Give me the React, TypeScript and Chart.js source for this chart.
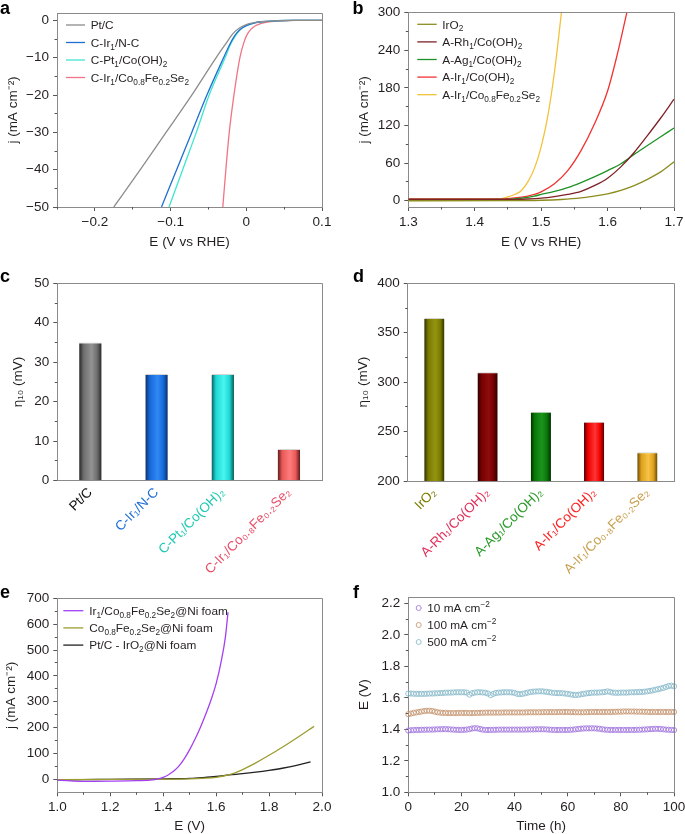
import React, { useEffect, useRef } from 'react';
import { Chart, registerables } from 'chart.js';

Chart.register(...registerables);

const FONT = '"Liberation Sans", Arial, Helvetica, sans-serif';
const TEXT = '#231f20';
const AXIS = '#8a8a8a';
const TICK = '#555555';

// ---------------- Panel a (HER polarisation) ----------------
const A_PTC_E = [-0.175, -0.14, -0.106, -0.072, -0.04, -0.028, -0.017, -0.008, 0, 0.01, 0.02, 0.04, 0.06, 0.1];
const A_PTC_J = [-50, -40, -30, -20, -10, -6.5, -3.4, -1.9, -1.1, -0.6, -0.3, -0.08, 0, 0];
const A_IRNC_E = [-0.112, -0.092, -0.072, -0.052, -0.03, -0.022, -0.015, -0.008, 0, 0.01, 0.02, 0.04, 0.06, 0.1];
const A_IRNC_J = [-50, -40, -30, -20, -10, -6.5, -4, -2.4, -1.4, -0.7, -0.35, -0.08, 0, 0];
const A_PTCO_E = [-0.102, -0.084, -0.066, -0.049, -0.028, -0.021, -0.014, -0.008, 0, 0.01, 0.02, 0.04, 0.06, 0.1];
const A_PTCO_J = [-50, -40, -30, -20, -10, -6.5, -4, -2.4, -1.4, -0.7, -0.35, -0.08, 0, 0];
const A_IRSE_E = [-0.031, -0.027, -0.0225, -0.017, -0.0085, -0.003, 0.001, 0.006, 0.012, 0.02, 0.03, 0.045, 0.065, 0.1];
const A_IRSE_J = [-50, -40, -30, -21, -10, -5.8, -3.8, -2.4, -1.4, -0.75, -0.35, -0.1, 0, 0];
const A_X_TICKS = [-0.2, -0.1, 0, 0.1];
const A_X_LABELS = ['\u22120.2', '\u22120.1', '0', '0.1'];
const A_X_MINOR = [-0.25, -0.15, -0.05, 0.05];
const A_Y_TICKS = [-50, -40, -30, -20, -10, 0];
const A_Y_LABELS = ['\u221250', '\u221240', '\u221230', '\u221220', '\u221210', '0'];
const A_Y_MINOR = [-45, -35, -25, -15, -5];

// ---------------- Panel b (OER polarisation) ----------------
const B_IRO2_E = [1.3, 1.45, 1.5, 1.53, 1.56, 1.58, 1.6, 1.62, 1.64, 1.66, 1.68, 1.7];
const B_IRO2_J = [0, 0.2, 0.8, 2, 4.5, 7.5, 11, 16.5, 24, 34, 46, 62];
const B_RH_E = [1.3, 1.45, 1.48, 1.5, 1.52, 1.54, 1.56, 1.58, 1.6, 1.62, 1.64, 1.66, 1.68, 1.7];
const B_RH_J = [2, 2, 2.8, 4, 6.5, 10, 15, 24, 36, 54, 77, 104, 132, 162];
const B_AG_E = [1.3, 1.45, 1.47, 1.49, 1.5, 1.52, 1.54, 1.56, 1.58, 1.6, 1.62, 1.64, 1.66, 1.68, 1.7];
const B_AG_J = [2, 2.2, 4, 7.5, 10, 15, 21, 29, 38, 48, 59, 74, 88, 102, 116];
const B_IRCO_E = [1.3, 1.44, 1.46, 1.48, 1.49, 1.5, 1.52, 1.54, 1.56, 1.58, 1.6, 1.615, 1.63];
const B_IRCO_J = [3, 3, 4.5, 7.5, 10, 14, 27, 48, 80, 122, 175, 235, 305];
const B_IRSE_E = [1.3, 1.43, 1.44, 1.45, 1.46, 1.47, 1.48, 1.49, 1.5, 1.51, 1.52, 1.53, 1.535];
const B_IRSE_J = [2, 2.5, 3.5, 6, 10, 16, 30, 52, 86, 135, 205, 295, 340];
const B_X_TICKS = [1.3, 1.4, 1.5, 1.6, 1.7];
const B_X_LABELS = ['1.3', '1.4', '1.5', '1.6', '1.7'];
const B_X_MINOR = [1.35, 1.45, 1.55, 1.65];
const B_Y_TICKS = [0, 60, 120, 180, 240, 300];
const B_Y_LABELS = ['0', '60', '120', '180', '240', '300'];
const B_Y_MINOR = [30, 90, 150, 210, 270];

// ---------------- Panel c (HER overpotential) ----------------
const C_CATS = ['Pt/C', 'C-Ir\u2081/N-C', 'C-Pt\u2081/Co(OH)\u2082', 'C-Ir\u2081/Co\u2080.\u2088Fe\u2080.\u2082Se\u2082'];
const C_ETA = [35, 27, 27, 8];
const C_Y_TICKS = [0, 10, 20, 30, 40, 50];
const C_Y_LABELS = ['0', '10', '20', '30', '40', '50'];
const C_Y_MINOR = [5, 15, 25, 35, 45];

// ---------------- Panel d (OER overpotential) ----------------
const D_CATS = ['IrO\u2082', 'A-Rh\u2081/Co(OH)\u2082', 'A-Ag\u2081/Co(OH)\u2082', 'A-Ir\u2081/Co(OH)\u2082', 'A-Ir\u2081/Co\u2080.\u2088Fe\u2080.\u2082Se\u2082'];
const D_ETA = [365, 310, 270, 260, 229];
const D_Y_TICKS = [200, 250, 300, 350, 400];
const D_Y_LABELS = ['200', '250', '300', '350', '400'];
const D_Y_MINOR = [225, 275, 325, 375];

// ---------------- Panel e (overall water splitting) ----------------
const E_IRSE_E = [1.0, 1.05, 1.1, 1.2, 1.3, 1.36, 1.38, 1.4, 1.42, 1.44, 1.46, 1.48, 1.5, 1.52, 1.54, 1.56, 1.58, 1.6, 1.62, 1.635, 1.645];
const E_IRSE_J = [-3, -6, -8, -7, -5, -2, 2, 8, 18, 32, 52, 80, 115, 155, 200, 250, 305, 370, 460, 550, 646];
const E_COSE_E = [1.0, 1.2, 1.4, 1.5, 1.55, 1.6, 1.65, 1.7, 1.75, 1.8, 1.85, 1.9, 1.97];
const E_COSE_J = [-1, 0, 1, 2, 4, 8, 18, 38, 64, 93, 124, 157, 205];
const E_PT_E = [1.0, 1.1, 1.2, 1.4, 1.5, 1.55, 1.6, 1.65, 1.7, 1.75, 1.8, 1.85, 1.9, 1.957];
const E_PT_J = [-2, -1, 0, 2, 4, 7, 11, 17, 22, 28, 35, 43, 53, 68];
const E_X_TICKS = [1.0, 1.2, 1.4, 1.6, 1.8, 2.0];
const E_X_LABELS = ['1.0', '1.2', '1.4', '1.6', '1.8', '2.0'];
const E_X_MINOR = [1.1, 1.3, 1.5, 1.7, 1.9];
const E_Y_TICKS = [0, 100, 200, 300, 400, 500, 600, 700];
const E_Y_LABELS = ['0', '100', '200', '300', '400', '500', '600', '700'];
const E_Y_MINOR = [50, 150, 250, 350, 450, 550, 650];

// ---------------- Panel f (stability) ----------------
const F_TIME = [0, 1, 2, 3, 4, 5, 6, 7, 8, 9, 10, 11, 12, 13, 14, 15, 16, 17, 18, 19, 20, 21, 22, 23, 24, 25, 26, 27, 28, 29, 30, 31, 32, 33, 34, 35, 36, 37, 38, 39, 40, 41, 42, 43, 44, 45, 46, 47, 48, 49, 50, 51, 52, 53, 54, 55, 56, 57, 58, 59, 60, 61, 62, 63, 64, 65, 66, 67, 68, 69, 70, 71, 72, 73, 74, 75, 76, 77, 78, 79, 80, 81, 82, 83, 84, 85, 86, 87, 88, 89, 90, 91, 92, 93, 94, 95, 96, 97, 98, 99, 100];
const F_10 = [
  1.392, 1.394, 1.395, 1.396, 1.396, 1.397, 1.397, 1.398, 1.398, 1.398,
  1.399, 1.4, 1.4, 1.401, 1.401, 1.4, 1.399, 1.398, 1.397, 1.396,
  1.396, 1.397, 1.398, 1.401, 1.405, 1.407, 1.406, 1.402, 1.398, 1.396,
  1.396, 1.396, 1.397, 1.397, 1.398, 1.398, 1.398, 1.398, 1.398, 1.398,
  1.398, 1.398, 1.398, 1.398, 1.398, 1.399, 1.399, 1.399, 1.4, 1.4,
  1.4, 1.4, 1.399, 1.398, 1.397, 1.396, 1.396, 1.396, 1.396, 1.396,
  1.396, 1.397, 1.398, 1.4, 1.402, 1.404, 1.405, 1.406, 1.406, 1.406,
  1.406, 1.405, 1.403, 1.4, 1.398, 1.397, 1.396, 1.396, 1.396, 1.396,
  1.396, 1.396, 1.396, 1.396, 1.396, 1.396, 1.397, 1.397, 1.398, 1.399,
  1.4, 1.401, 1.402, 1.403, 1.403, 1.402, 1.4, 1.398, 1.397, 1.396,
  1.395];
const F_100 = [
  1.496, 1.5, 1.504, 1.507, 1.51, 1.513, 1.516, 1.518, 1.518, 1.516,
  1.512, 1.508, 1.506, 1.504, 1.504, 1.503, 1.503, 1.503, 1.503, 1.504,
  1.504, 1.504, 1.504, 1.503, 1.503, 1.504, 1.504, 1.505, 1.505, 1.506,
  1.506, 1.506, 1.506, 1.506, 1.506, 1.506, 1.507, 1.507, 1.507, 1.507,
  1.507, 1.507, 1.507, 1.507, 1.507, 1.508, 1.508, 1.508, 1.508, 1.508,
  1.508, 1.509, 1.509, 1.509, 1.509, 1.509, 1.509, 1.51, 1.51, 1.51,
  1.51, 1.509, 1.509, 1.508, 1.508, 1.508, 1.508, 1.509, 1.509, 1.51,
  1.51, 1.51, 1.51, 1.51, 1.51, 1.51, 1.51, 1.511, 1.511, 1.512,
  1.512, 1.513, 1.513, 1.513, 1.513, 1.513, 1.512, 1.512, 1.512, 1.511,
  1.511, 1.51, 1.51, 1.51, 1.51, 1.51, 1.51, 1.51, 1.51, 1.51,
  1.51];
const F_500 = [
  1.627, 1.627, 1.626, 1.625, 1.625, 1.625, 1.625, 1.626, 1.627, 1.627,
  1.628, 1.629, 1.63, 1.631, 1.632, 1.633, 1.633, 1.634, 1.635, 1.635,
  1.635, 1.635, 1.633, 1.62, 1.629, 1.633, 1.635, 1.635, 1.634, 1.632,
  1.627, 1.617, 1.625, 1.631, 1.633, 1.634, 1.635, 1.635, 1.635, 1.634,
  1.631, 1.625, 1.623, 1.625, 1.629, 1.633, 1.637, 1.639, 1.64, 1.641,
  1.641, 1.64, 1.638, 1.635, 1.633, 1.631, 1.63, 1.63, 1.629, 1.627,
  1.625, 1.622, 1.619, 1.618, 1.619, 1.622, 1.625, 1.628, 1.63, 1.632,
  1.633, 1.633, 1.634, 1.635, 1.637, 1.641, 1.637, 1.633, 1.632, 1.632,
  1.633, 1.633, 1.633, 1.634, 1.635, 1.635, 1.636, 1.637, 1.637, 1.639,
  1.641, 1.644, 1.647, 1.651, 1.655, 1.659, 1.663, 1.669, 1.675, 1.677,
  1.673];
const F_X_TICKS = [0, 20, 40, 60, 80, 100];
const F_X_LABELS = ['0', '20', '40', '60', '80', '100'];
const F_X_MINOR = [10, 30, 50, 70, 90];
const F_Y_TICKS = [1.0, 1.2, 1.4, 1.6, 1.8, 2.0, 2.2];
const F_Y_LABELS = ['1.0', '1.2', '1.4', '1.6', '1.8', '2.0', '2.2'];
const F_Y_MINOR = [1.1, 1.3, 1.5, 1.7, 1.9, 2.1];

// ---------------- styles ----------------
const A_COLORS = ['#8c8c8c', '#1f6fd2', '#3ee6cf', '#f07484'];
const B_COLORS = ['#8c8c1e', '#7e2228', '#1f9226', '#f23232', '#f2c23c'];
const E_COLORS = ['#a540f2', '#9c9c30', '#222222'];
const F_COLORS = ['#a57ce0', '#c89a76', '#8cbccc'];
const C_LABEL_COLORS = ['#111111', '#1f6fd8', '#22c8b4', '#e8506a'];
const D_LABEL_COLORS = ['#7a7a00', '#e0305a', '#2a9a2a', '#ff2020', '#c8a050'];
const C_BAR_SHADES = [
  ['#262626', '#6e6e6e', '#939393'],
  ['#0b2f66', '#1668d8', '#3088f5'],
  ['#0a5a58', '#1ed8d4', '#4af5f0'],
  ['#5a1818', '#e85858', '#ff7c7c'],
];
const D_BAR_SHADES = [
  ['#2e2e00', '#7a7a00', '#949412'],
  ['#280000', '#760000', '#8e0c0c'],
  ['#003000', '#0a780a', '#1c941c'],
  ['#560000', '#ee0000', '#ff3434'],
  ['#684800', '#dea01e', '#f6c444'],
];

type Box = { left: number; top: number; width: number; height: number };
type Area = { l: number; t: number; r: number; b: number };
type LegendCfg = {
  items: { text: string; color: string }[];
  marker: 'line' | 'circle';
  dx: number; dy: number; spacing: number; lineLen: number; textDx: number; size: number;
};

function drawRich(ctx: CanvasRenderingContext2D, text: string, x: number, y: number, size: number, color: string) {
  const parts = text.split(/(_\{[^}]*\}|\^\{[^}]*\})/).filter((p) => p.length > 0);
  let cx = x;
  const base = y + size * 0.36;
  ctx.fillStyle = color;
  ctx.textAlign = 'left';
  ctx.textBaseline = 'alphabetic';
  for (const p of parts) {
    let t = p;
    let s = size;
    let dy = 0;
    if (p.startsWith('_{')) { t = p.slice(2, -1); s = size * 0.7; dy = size * 0.24; }
    else if (p.startsWith('^{')) { t = p.slice(2, -1); s = size * 0.7; dy = -size * 0.42; }
    ctx.font = `${s}px ${FONT}`;
    ctx.fillText(t, cx, base + dy);
    cx += ctx.measureText(t).width;
  }
}

function decor(opts: { xMinor?: number[]; yMinor?: number[]; legend?: LegendCfg }) {
  return {
    id: 'decor',
    afterDraw(chart: any) {
      const { ctx, chartArea: a, scales } = chart;
      const al = (p: number) => Math.round(p - 0.5) + 0.5;
      ctx.save();
      ctx.strokeStyle = AXIS;
      ctx.lineWidth = 1;
      ctx.beginPath();
      ctx.moveTo(al(a.left), al(a.top));
      ctx.lineTo(al(a.right), al(a.top));
      ctx.lineTo(al(a.right), al(a.bottom));
      ctx.stroke();
      ctx.strokeStyle = TICK;
      ctx.beginPath();
      (opts.xMinor || []).forEach((v) => {
        const px = al(scales.x.getPixelForValue(v));
        ctx.moveTo(px, a.bottom);
        ctx.lineTo(px, a.bottom + 2.5);
      });
      (opts.yMinor || []).forEach((v) => {
        const py = al(scales.y.getPixelForValue(v));
        ctx.moveTo(a.left - 2.5, py);
        ctx.lineTo(a.left, py);
      });
      ctx.stroke();
      const lg = opts.legend;
      if (lg) {
        lg.items.forEach((it, i) => {
          const x = a.left + lg.dx;
          const y = a.top + lg.dy + i * lg.spacing;
          ctx.strokeStyle = it.color;
          if (lg.marker === 'line') {
            ctx.lineWidth = 1.3;
            ctx.beginPath();
            ctx.moveTo(x, y);
            ctx.lineTo(x + lg.lineLen, y);
            ctx.stroke();
          } else {
            ctx.lineWidth = 0.9;
            ctx.beginPath();
            ctx.arc(x, y, 2.5, 0, Math.PI * 2);
            ctx.stroke();
          }
          drawRich(ctx, it.text, x + lg.textDx, y, lg.size, TEXT);
        });
      }
      ctx.restore();
    },
  };
}

interface AxesCfg {
  box: Box; area: Area;
  xCat?: boolean;
  xMin?: number; xMax?: number; xTicks?: number[]; xLabels?: string[];
  xTitle?: string; xTitleY?: number; xLabelColors?: string[];
  yMin: number; yMax: number; yTicks: number[]; yLabels: string[];
  yTitle: string; yTitleX: number;
}

function baseOptions(c: AxesCfg) {
  const titleFont = { family: FONT, size: 13.5, lineHeight: 1 };
  const tickFont = { family: FONT, size: 13.5, lineHeight: 1.2 };
  const x: any = {
    type: c.xCat ? 'category' : 'linear',
    afterFit: (s: any) => { s.height = c.box.top + c.box.height - c.area.b; },
    grid: { display: true, drawOnChartArea: false, drawTicks: !c.xCat, tickLength: 4, tickColor: TICK, tickWidth: 1 },
    border: { display: true, color: AXIS, width: 1 },
    ticks: {
      font: tickFont,
      padding: c.xCat ? 4 : 3,
      autoSkip: false,
      color: c.xLabelColors ? (ctx: any) => c.xLabelColors![ctx.index] : TEXT,
      maxRotation: c.xCat ? 45 : 0,
      minRotation: c.xCat ? 45 : 0,
    },
    title: c.xTitle
      ? { display: true, text: c.xTitle, font: titleFont, color: TEXT, padding: { top: 0, bottom: c.box.top + c.box.height - (c.xTitleY as number) - 6.75 } }
      : { display: false },
  };
  if (!c.xCat) {
    x.min = c.xMin;
    x.max = c.xMax;
    x.afterBuildTicks = (s: any) => { s.ticks = (c.xTicks as number[]).map((v) => ({ value: v })); };
    x.ticks.callback = (_v: any, i: number) => (c.xLabels as string[])[i];
  }
  const y: any = {
    type: 'linear',
    min: c.yMin,
    max: c.yMax,
    afterFit: (s: any) => { s.width = c.area.l - c.box.left; },
    afterBuildTicks: (s: any) => { s.ticks = c.yTicks.map((v) => ({ value: v })); },
    grid: { display: true, drawOnChartArea: false, drawTicks: true, tickLength: 4, tickColor: TICK, tickWidth: 1 },
    border: { display: true, color: AXIS, width: 1 },
    ticks: { font: tickFont, padding: 4, color: TEXT, callback: (_v: any, i: number) => c.yLabels[i] },
    title: { display: true, text: c.yTitle, font: titleFont, color: TEXT, padding: { top: c.yTitleX - c.box.left - 6.75, bottom: 0 } },
  };
  return {
    animation: false,
    responsive: false,
    maintainAspectRatio: false,
    devicePixelRatio: 1,
    events: [],
    layout: { padding: { left: 0, top: c.area.t - c.box.top, right: c.box.left + c.box.width - c.area.r, bottom: 0 } },
    plugins: { legend: { display: false }, tooltip: { enabled: false } },
    scales: { x, y },
  };
}

function pts(xs: number[], ys: number[]) {
  return xs.map((x, i) => ({ x, y: ys[i] }));
}

function lineSet(label: string, xs: number[], ys: number[], color: string) {
  return {
    label,
    data: pts(xs, ys),
    borderColor: color,
    backgroundColor: color,
    borderWidth: 1.3,
    pointRadius: 0,
    fill: false,
    tension: 0.4,
    cubicInterpolationMode: 'monotone',
  };
}

function cylinder(shades: string[][], n: number, frac: number) {
  return (ctx: any) => {
    const chart = ctx.chart;
    const i = ctx.dataIndex;
    const cols = shades[i] || shades[0];
    const xs = chart && chart.scales ? chart.scales.x : null;
    if (!xs || i == null) return cols[1];
    const cx = xs.getPixelForValue(i);
    const w = (xs.width / n) * frac;
    if (!isFinite(cx) || !isFinite(w) || w <= 0) return cols[1];
    const g = chart.ctx.createLinearGradient(cx - w / 2, 0, cx + w / 2, 0);
    g.addColorStop(0, cols[0]);
    g.addColorStop(0.2, cols[1]);
    g.addColorStop(0.55, cols[2]);
    g.addColorStop(0.8, cols[1]);
    g.addColorStop(1, cols[0]);
    return g;
  };
}

// ---------------- panel configs ----------------
const BOX_A: Box = { left: 0, top: 0, width: 340, height: 262 };
const BOX_B: Box = { left: 340, top: 0, width: 360, height: 262 };
const BOX_C: Box = { left: 0, top: 262, width: 340, height: 318 };
const BOX_D: Box = { left: 340, top: 262, width: 360, height: 318 };
const BOX_E: Box = { left: 0, top: 580, width: 340, height: 254 };
const BOX_F: Box = { left: 340, top: 580, width: 360, height: 254 };

function configA(): any {
  return {
    type: 'line',
    data: {
      datasets: [
        lineSet('Pt/C', A_PTC_E, A_PTC_J, A_COLORS[0]),
        lineSet('C-Ir1/N-C', A_IRNC_E, A_IRNC_J, A_COLORS[1]),
        lineSet('C-Pt1/Co(OH)2', A_PTCO_E, A_PTCO_J, A_COLORS[2]),
        lineSet('C-Ir1/Co0.8Fe0.2Se2', A_IRSE_E, A_IRSE_J, A_COLORS[3]),
      ],
    },
    options: baseOptions({
      box: BOX_A, area: { l: 57, t: 13, r: 322, b: 207 },
      xMin: -0.25, xMax: 0.1, xTicks: A_X_TICKS, xLabels: A_X_LABELS,
      xTitle: 'E (V vs RHE)', xTitleY: 242,
      yMin: -50, yMax: 2, yTicks: A_Y_TICKS, yLabels: A_Y_LABELS,
      yTitle: 'j (mA cm\u207B\u00B2)', yTitleX: 13.5,
    }),
    plugins: [decor({
      xMinor: A_X_MINOR, yMinor: A_Y_MINOR,
      legend: {
        marker: 'line', dx: 9, dy: 12, spacing: 17.5, lineLen: 19, textDx: 24.7, size: 11.8,
        items: [
          { text: 'Pt/C', color: A_COLORS[0] },
          { text: 'C-Ir_{1}/N-C', color: A_COLORS[1] },
          { text: 'C-Pt_{1}/Co(OH)_{2}', color: A_COLORS[2] },
          { text: 'C-Ir_{1}/Co_{0.8}Fe_{0.2}Se_{2}', color: A_COLORS[3] },
        ],
      },
    })],
  };
}

function configB(): any {
  return {
    type: 'line',
    data: {
      datasets: [
        lineSet('IrO2', B_IRO2_E, B_IRO2_J, B_COLORS[0]),
        lineSet('A-Rh1/Co(OH)2', B_RH_E, B_RH_J, B_COLORS[1]),
        lineSet('A-Ag1/Co(OH)2', B_AG_E, B_AG_J, B_COLORS[2]),
        lineSet('A-Ir1/Co(OH)2', B_IRCO_E, B_IRCO_J, B_COLORS[3]),
        lineSet('A-Ir1/Co0.8Fe0.2Se2', B_IRSE_E, B_IRSE_J, B_COLORS[4]),
      ],
    },
    options: baseOptions({
      box: BOX_B, area: { l: 408.3, t: 12.7, r: 674, b: 207 },
      xMin: 1.3, xMax: 1.7, xTicks: B_X_TICKS, xLabels: B_X_LABELS,
      xTitle: 'E (V vs RHE)', xTitleY: 242,
      yMin: -10, yMax: 300, yTicks: B_Y_TICKS, yLabels: B_Y_LABELS,
      yTitle: 'j (mA cm\u207B\u00B2)', yTitleX: 364,
    }),
    plugins: [decor({
      xMinor: B_X_MINOR, yMinor: B_Y_MINOR,
      legend: {
        marker: 'line', dx: 9, dy: 11.6, spacing: 17.6, lineLen: 19.4, textDx: 25, size: 11.8,
        items: [
          { text: 'IrO_{2}', color: B_COLORS[0] },
          { text: 'A-Rh_{1}/Co(OH)_{2}', color: B_COLORS[1] },
          { text: 'A-Ag_{1}/Co(OH)_{2}', color: B_COLORS[2] },
          { text: 'A-Ir_{1}/Co(OH)_{2}', color: B_COLORS[3] },
          { text: 'A-Ir_{1}/Co_{0.8}Fe_{0.2}Se_{2}', color: B_COLORS[4] },
        ],
      },
    })],
  };
}

function configC(): any {
  return {
    type: 'bar',
    data: {
      labels: C_CATS,
      datasets: [{
        label: '\u03B710',
        data: C_ETA,
        backgroundColor: cylinder(C_BAR_SHADES, C_CATS.length, 0.34),
        borderColor: '#d4d4d4',
        borderWidth: { top: 1, left: 0, right: 0, bottom: 0 },
        borderSkipped: false,
        categoryPercentage: 1,
        barPercentage: 0.34,
      }],
    },
    options: baseOptions({
      box: BOX_C, area: { l: 57.3, t: 283.3, r: 322, b: 480.7 },
      xCat: true, xLabelColors: C_LABEL_COLORS,
      yMin: 0, yMax: 50, yTicks: C_Y_TICKS, yLabels: C_Y_LABELS,
      yTitle: '\u03B7\u2081\u2080 (mV)', yTitleX: 18.3,
    }),
    plugins: [decor({ yMinor: C_Y_MINOR })],
  };
}

function configD(): any {
  return {
    type: 'bar',
    data: {
      labels: D_CATS,
      datasets: [{
        label: '\u03B710',
        data: D_ETA,
        backgroundColor: cylinder(D_BAR_SHADES, D_CATS.length, 0.38),
        borderColor: '#d4d4d4',
        borderWidth: { top: 1, left: 0, right: 0, bottom: 0 },
        borderSkipped: false,
        categoryPercentage: 1,
        barPercentage: 0.38,
      }],
    },
    options: baseOptions({
      box: BOX_D, area: { l: 407.7, t: 283.3, r: 674, b: 481 },
      xCat: true, xLabelColors: D_LABEL_COLORS,
      yMin: 200, yMax: 400, yTicks: D_Y_TICKS, yLabels: D_Y_LABELS,
      yTitle: '\u03B7\u2081\u2080 (mV)', yTitleX: 363.3,
    }),
    plugins: [decor({ yMinor: D_Y_MINOR })],
  };
}

function configE(): any {
  return {
    type: 'line',
    data: {
      datasets: [
        lineSet('Ir1/Co0.8Fe0.2Se2@Ni foam', E_IRSE_E, E_IRSE_J, E_COLORS[0]),
        lineSet('Co0.8Fe0.2Se2@Ni foam', E_COSE_E, E_COSE_J, E_COLORS[1]),
        lineSet('Pt/C - IrO2@Ni foam', E_PT_E, E_PT_J, E_COLORS[2]),
      ],
    },
    options: baseOptions({
      box: BOX_E, area: { l: 57.3, t: 598.3, r: 322, b: 792.3 },
      xMin: 1.0, xMax: 2.0, xTicks: E_X_TICKS, xLabels: E_X_LABELS,
      xTitle: 'E (V)', xTitleY: 826.7,
      yMin: -50, yMax: 700, yTicks: E_Y_TICKS, yLabels: E_Y_LABELS,
      yTitle: 'j (mA cm\u207B\u00B2)', yTitleX: 11,
    }),
    plugins: [decor({
      xMinor: E_X_MINOR, yMinor: E_Y_MINOR,
      legend: {
        marker: 'line', dx: 6, dy: 12.4, spacing: 17.2, lineLen: 20, textDx: 26, size: 11.8,
        items: [
          { text: 'Ir_{1}/Co_{0.8}Fe_{0.2}Se_{2}@Ni foam', color: E_COLORS[0] },
          { text: 'Co_{0.8}Fe_{0.2}Se_{2}@Ni foam', color: E_COLORS[1] },
          { text: 'Pt/C - IrO_{2}@Ni foam', color: E_COLORS[2] },
        ],
      },
    })],
  };
}

function scatterSet(label: string, ys: number[], color: string) {
  return {
    label,
    data: pts(F_TIME, ys),
    showLine: false,
    borderColor: color,
    backgroundColor: 'rgba(255,255,255,0)',
    pointRadius: 2.6,
    pointBorderWidth: 0.9,
    pointStyle: 'circle',
    clip: 6,
  };
}

function configF(): any {
  return {
    type: 'line',
    data: {
      datasets: [
        scatterSet('10 mA cm-2', F_10, F_COLORS[0]),
        scatterSet('100 mA cm-2', F_100, F_COLORS[1]),
        scatterSet('500 mA cm-2', F_500, F_COLORS[2]),
      ],
    },
    options: baseOptions({
      box: BOX_F, area: { l: 408.3, t: 597, r: 674, b: 792.3 },
      xMin: 0, xMax: 100, xTicks: F_X_TICKS, xLabels: F_X_LABELS,
      xTitle: 'Time (h)', xTitleY: 826.7,
      yMin: 1.0, yMax: 2.24, yTicks: F_Y_TICKS, yLabels: F_Y_LABELS,
      yTitle: 'E (V)', yTitleX: 364,
    }),
    plugins: [decor({
      xMinor: F_X_MINOR, yMinor: F_Y_MINOR,
      legend: {
        marker: 'circle', dx: 10.4, dy: 11, spacing: 17, lineLen: 0, textDx: 8.6, size: 11.8,
        items: [
          { text: '10 mA cm^{\u22122}', color: F_COLORS[0] },
          { text: '100 mA cm^{\u22122}', color: F_COLORS[1] },
          { text: '500 mA cm^{\u22122}', color: F_COLORS[2] },
        ],
      },
    })],
  };
}

function ChartPanel({ box, make }: { box: Box; make: () => any }) {
  const ref = useRef<HTMLCanvasElement | null>(null);
  useEffect(() => {
    if (!ref.current) return;
    const chart = new Chart(ref.current, make());
    return () => chart.destroy();
  }, []);
  return (
    <canvas
      ref={ref}
      width={box.width}
      height={box.height}
      style={{ position: 'absolute', left: box.left, top: box.top, width: box.width, height: box.height }}
    />
  );
}

const LETTERS = [
  { t: 'a', x: 0, base: 14.5 },
  { t: 'b', x: 352.5, base: 14.5 },
  { t: 'c', x: 0, base: 282 },
  { t: 'd', x: 353, base: 282 },
  { t: 'e', x: 0, base: 598 },
  { t: 'f', x: 353, base: 598 },
];

export default function App() {
  Chart.defaults.font.family = FONT;
  Chart.defaults.color = TEXT;
  return (
    <div style={{ position: 'fixed', left: 0, top: 0, width: 685, height: 834, overflow: 'hidden', background: '#ffffff' }}>
      <ChartPanel box={BOX_A} make={configA} />
      <ChartPanel box={BOX_B} make={configB} />
      <ChartPanel box={BOX_C} make={configC} />
      <ChartPanel box={BOX_D} make={configD} />
      <ChartPanel box={BOX_E} make={configE} />
      <ChartPanel box={BOX_F} make={configF} />
      {LETTERS.map((l) => (
        <div
          key={l.t}
          style={{
            position: 'absolute', left: l.x, top: l.base - 15.24, fontFamily: FONT, fontWeight: 'bold',
            fontSize: 18, lineHeight: '18px', color: '#000',
          }}
        >
          {l.t}
        </div>
      ))}
    </div>
  );
}
